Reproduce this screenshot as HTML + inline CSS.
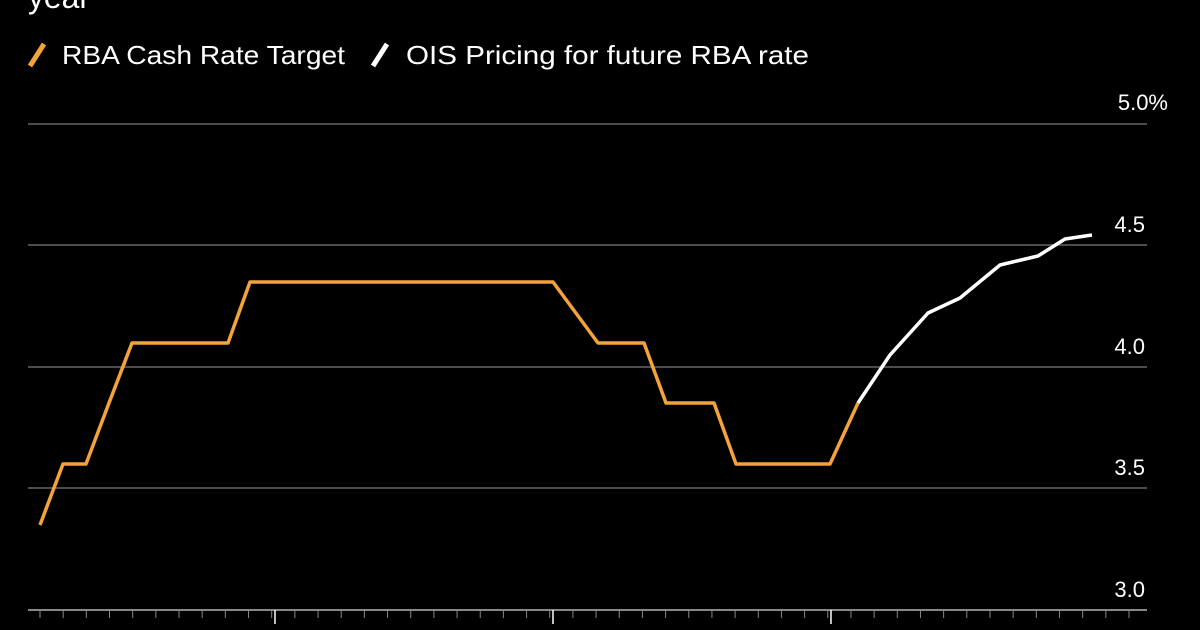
<!DOCTYPE html>
<html><head><meta charset="utf-8"><style>
html,body{margin:0;padding:0;background:#000;}
svg{display:block}
text{font-family:"Liberation Sans",sans-serif;fill:#fff}
</style></head><body>
<svg width="1200" height="630" viewBox="0 0 1200 630">
<rect width="1200" height="630" fill="#000"/>
<text x="28" y="8" font-size="32" textLength="62" lengthAdjust="spacingAndGlyphs">year</text>
<line x1="30" y1="66" x2="44" y2="44" stroke="#f4a23c" stroke-width="5"/>
<text x="62" y="64" font-size="26" textLength="283" lengthAdjust="spacingAndGlyphs">RBA Cash Rate Target</text>
<line x1="373" y1="66" x2="387" y2="44" stroke="#fff" stroke-width="5"/>
<text x="406" y="64" font-size="26" textLength="403" lengthAdjust="spacingAndGlyphs">OIS Pricing for future RBA rate</text>
<g stroke="#666" stroke-width="1.5">
<line x1="28" y1="124" x2="1147" y2="124"/>
<line x1="28" y1="245" x2="1147" y2="245"/>
<line x1="28" y1="367" x2="1147" y2="367"/>
<line x1="28" y1="488" x2="1147" y2="488"/>
</g>
<line x1="28" y1="610" x2="1147" y2="610" stroke="#888" stroke-width="2"/>
<g font-size="22" text-anchor="end">
<text x="1168" y="110">5.0%</text>
<text x="1145" y="232">4.5</text>
<text x="1145" y="354">4.0</text>
<text x="1145" y="475">3.5</text>
<text x="1145" y="597">3.0</text>
</g>
<g stroke="#888" stroke-width="1" id="ticks"></g>
<g stroke="#fff" stroke-width="1.5">
<line x1="275" y1="610" x2="275" y2="624"/>
<line x1="553" y1="610" x2="553" y2="624"/>
<line x1="831" y1="610" x2="831" y2="624"/>
</g>
<polyline fill="none" stroke="#f4a23c" stroke-width="3.5" stroke-linejoin="round" points="40,525 63,464 86,464 109,403 132,343 228,343 250,282 553,282 598,343 644,343 666,403 714,403 736,464 830,464 858,403"/>
<polyline fill="none" stroke="#fff" stroke-width="3.5" stroke-linejoin="round" points="858,403 890,355 928,313 960,298 1000,265 1038,256 1065,239 1092,235"/>
</svg>
<script>
var g=document.getElementById('ticks');
for(var i=0;i<48;i++){var x=40+i*23.17;var l=document.createElementNS('http://www.w3.org/2000/svg','line');l.setAttribute('x1',x);l.setAttribute('x2',x);l.setAttribute('y1',610);l.setAttribute('y2',618);g.appendChild(l);}
</script>
</body></html>
